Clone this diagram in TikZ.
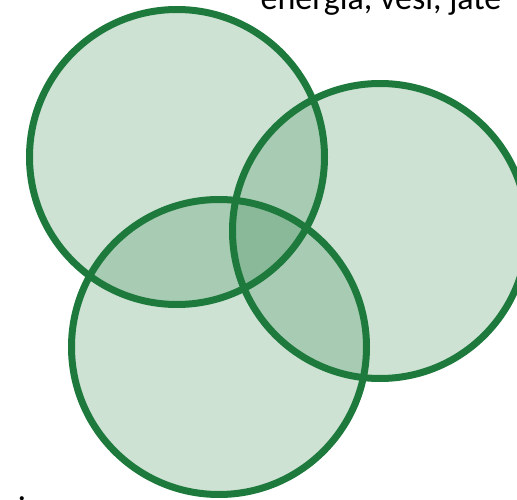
\documentclass[tikz,border=0pt]{standalone}
\usepackage{fontspec}
\setmainfont{Carlito}
\definecolor{setgreen}{RGB}{30,122,60}
\tikzset{
  setfill/.style={fill=setgreen, fill opacity=0.22},
  setline/.style={draw=setgreen, line width=7pt}
}

\begin{document}
\begin{tikzpicture}[x=1pt,y=-1pt]
\useasboundingbox (0,0) rectangle (517,500);
\coordinate (waste) at (177,157);
\coordinate (water) at (380,231);
\coordinate (energy) at (219,347);
\fill[setfill] (waste) circle (147.5);
\fill[setfill] (water) circle (147.5);
\fill[setfill] (energy) circle (147.5);
\draw[setline] (waste) circle (147.5);
\draw[setline] (water) circle (147.5);
\draw[setline] (energy) circle (147.5);
\node[font=\fontsize{34}{38}\selectfont, anchor=base] (title) at (381,10) {energia, vesi, jäte};
\node[font=\fontsize{34}{38}\selectfont, anchor=base] (dot) at (22,500) {.};
\end{tikzpicture}
\end{document}
